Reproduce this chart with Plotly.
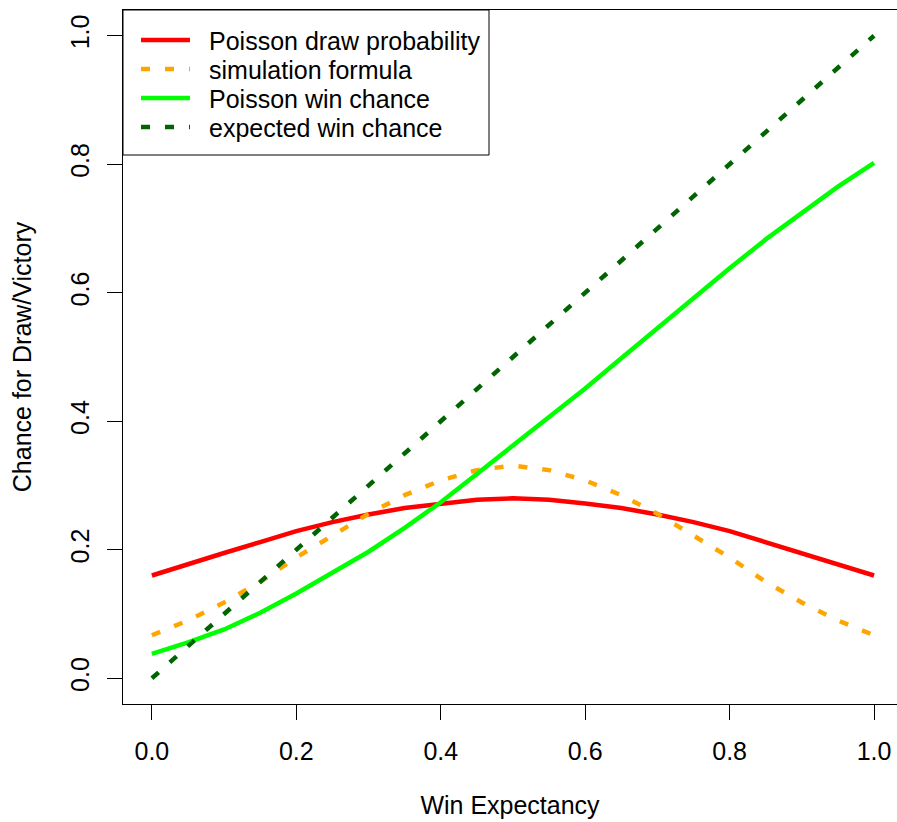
import plotly.graph_objects as go

# Win expectancy grid (x values)
win_exp = [0.00, 0.05, 0.10, 0.15, 0.20, 0.25, 0.30, 0.35, 0.40, 0.45, 0.50,
           0.55, 0.60, 0.65, 0.70, 0.75, 0.80, 0.85, 0.90, 0.95, 1.00]

# Series values
poisson_draw = [0.160, 0.178, 0.195, 0.212, 0.229, 0.243, 0.255, 0.265, 0.272, 0.278, 0.280,
                0.278, 0.272, 0.265, 0.255, 0.243, 0.229, 0.212, 0.195, 0.178, 0.160]
simulation = [0.067, 0.090, 0.118, 0.150, 0.188, 0.222, 0.256, 0.285, 0.308, 0.324, 0.331,
              0.324, 0.308, 0.285, 0.256, 0.222, 0.188, 0.150, 0.118, 0.090, 0.067]
poisson_win = [0.038, 0.056, 0.076, 0.102, 0.132, 0.164, 0.197, 0.234, 0.274, 0.318, 0.362,
               0.406, 0.451, 0.498, 0.545, 0.592, 0.638, 0.683, 0.725, 0.765, 0.802]
expected_x = [0.0, 1.0]
expected_win = [0.0, 1.0]

tick_vals = [0.0, 0.2, 0.4, 0.6, 0.8, 1.0]
tick_text = ["0.0", "0.2", "0.4", "0.6", "0.8", "1.0"]

names = ["Poisson draw probability", "simulation formula",
         "Poisson win chance", "expected win chance"]
colors = ["#FF0000", "#FFA500", "#00FF00", "#006400"]
dashes = ["solid", "9px,15px", "solid", "9px,15px"]
series = [(win_exp, poisson_draw), (win_exp, simulation),
          (win_exp, poisson_win), (expected_x, expected_win)]

FONT = "Liberation Sans, Arial, sans-serif"
FS = 25
W, H = 897, 822
ML, MR, MT, MB = 123, 0, 10, 118
PW, PH = W - ML - MR, H - MT - MB


def px_x(p):
    return (p - ML) / PW


def px_y(p):
    return (H - MB - p) / PH


fig = go.Figure()
for (xs, ys), nm, c, d in zip(series, names, colors, dashes):
    fig.add_trace(go.Scatter(x=xs, y=ys, mode="lines", name=nm, showlegend=False,
                             line=dict(color=c, width=4.5, dash=d)))

axis_common = dict(
    showgrid=False, zeroline=False, showline=True, linecolor="black", linewidth=1,
    ticks="outside", ticklen=15, tickwidth=1, tickcolor="black",
    tickvals=tick_vals, ticktext=tick_text, automargin=False,
    tickfont=dict(family=FONT, size=FS, color="black"),
)

# Legend drawn as box + sample lines + text labels
shapes = [dict(type="rect", xref="paper", yref="paper", layer="above",
               x0=px_x(123), x1=px_x(489), y0=px_y(155), y1=px_y(10),
               line=dict(color="black", width=1), fillcolor="white")]
annotations = []
rows = [40, 69, 98, 127]
for r, nm, c, d in zip(rows, names, colors, dashes):
    shapes.append(dict(type="line", xref="paper", yref="paper", layer="above",
                       x0=px_x(141), x1=px_x(190), y0=px_y(r), y1=px_y(r),
                       line=dict(color=c, width=4.5, dash=d)))
    annotations.append(dict(text=nm, xref="paper", yref="paper", x=px_x(207), y=px_y(r + 1),
                            xanchor="left", yanchor="middle", showarrow=False,
                            font=dict(family=FONT, size=FS, color="black")))

fig.update_layout(
    width=W, height=H,
    margin=dict(l=ML, r=MR, t=MT, b=MB),
    plot_bgcolor="white", paper_bgcolor="white",
    font=dict(family=FONT, size=FS, color="black"),
    showlegend=False,
    xaxis=dict(range=[-0.04, 1.0318], mirror=True, ticklabelstandoff=10,
               title=dict(text="Win Expectancy", font=dict(family=FONT, size=FS), standoff=32),
               **axis_common),
    yaxis=dict(range=[-0.04, 1.04], tickangle=-90, ticklabelstandoff=8,
               title=dict(text="Chance for Draw/Victory", font=dict(family=FONT, size=FS), standoff=27),
               **axis_common),
    shapes=shapes,
    annotations=annotations,
)

fig.write_html("out.html",
               config={"displayModeBar": False},
               post_script="document.body.style.margin='0';document.body.style.overflow='hidden';")
